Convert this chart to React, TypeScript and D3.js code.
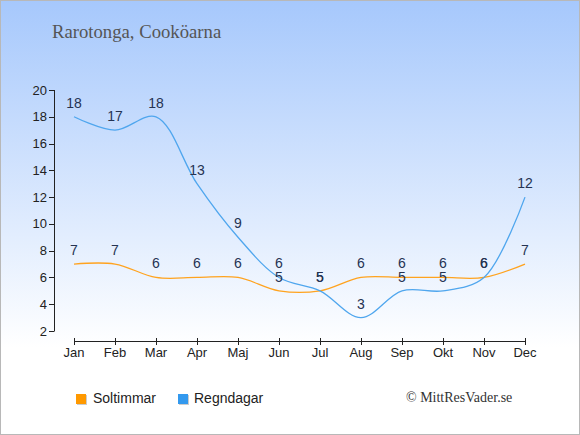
import * as d3 from 'd3'

const months = ['Jan', 'Feb', 'Mar', 'Apr', 'Maj', 'Jun', 'Jul', 'Aug', 'Sep', 'Okt', 'Nov', 'Dec']
const soltimmar = [7, 7, 6, 6, 6, 5, 5, 6, 6, 6, 6, 7]
const regndagar = [18, 17, 18, 13, 9, 6, 5, 3, 5, 5, 6, 12]
const yTicks = [2, 4, 6, 8, 10, 12, 14, 16, 18, 20]

const W = 580
const H = 435
const COL_SUN = '#ffa31f'
const COL_RAIN = '#4fa6ee'
const LEG_SUN = '#ff9900'
const LEG_RAIN = '#3399ee'
const LABEL = '#253352'
const SANS = 'Liberation Sans, Arial, sans-serif'
const SERIF = 'Liberation Serif, Georgia, serif'

export default function App() {
  const x = d3.scalePoint<string>().domain(months).range([74, 525])
  const y = d3.scaleLinear().domain([2, 20]).range([331, 90])

  const line = d3.line<number>()
    .x((_d, i) => x(months[i])!)
    .y(d => y(d))
    .curve(d3.curveCatmullRom)

  const axisY = 341

  return (
    <svg width={W} height={H} style={{ position: 'absolute', left: 0, top: 0, display: 'block' }}>
      <defs>
        <linearGradient id="bg" x1="0" y1="0" x2="0" y2="1">
          <stop offset="0" stopColor="#a6c8fc" />
          <stop offset="0.8" stopColor="#ffffff" />
          <stop offset="1" stopColor="#ffffff" />
        </linearGradient>
      </defs>
      <rect x={0.5} y={0.5} width={W - 1} height={H - 1} fill="url(#bg)" stroke="#b8b8b8" strokeWidth={1} />

      <text x={52} y={38} fontFamily={SERIF} fontSize={18.7} fill="#555">Rarotonga, Cooköarna</text>

      {/* y axis */}
      <line x1={54.5} x2={54.5} y1={y(20)} y2={y(2)} stroke="#222" />
      {yTicks.map(t => (
        <g key={t}>
          <line x1={49} x2={54.5} y1={Math.round(y(t)) + 0.5} y2={Math.round(y(t)) + 0.5} stroke="#222" />
          <text x={47} y={y(t)} dy="0.35em" textAnchor="end" fontFamily={SANS} fontSize={13} fill="#222">{t}</text>
        </g>
      ))}

      {/* x axis */}
      <line x1={x('Jan')!} x2={x('Dec')!} y1={axisY + 0.5} y2={axisY + 0.5} stroke="#222" />
      {months.map(m => (
        <g key={m}>
          <line x1={Math.round(x(m)!) + 0.5} x2={Math.round(x(m)!) + 0.5} y1={338} y2={345} stroke="#222" />
          <text x={x(m)!} y={357} textAnchor="middle" fontFamily={SANS} fontSize={13} fill="#222">{m}</text>
        </g>
      ))}

      <path d={line(soltimmar)!} fill="none" stroke={COL_SUN} strokeWidth={1.3} />
      <path d={line(regndagar)!} fill="none" stroke={COL_RAIN} strokeWidth={1.3} />

      {soltimmar.map((v, i) => (
        <text key={'s' + i} x={x(months[i])!} y={y(v) - 14} dy="0.35em" textAnchor="middle"
          fontFamily={SANS} fontSize={14} fill={LABEL}>{v}</text>
      ))}
      {regndagar.map((v, i) => (
        <text key={'r' + i} x={x(months[i])!} y={y(v) - 14} dy="0.35em" textAnchor="middle"
          fontFamily={SANS} fontSize={14} fill={LABEL}>{v}</text>
      ))}

      {/* legend */}
      <rect x={77} y={395} width={10} height={10} fill="#ccc" />
      <rect x={76} y={394} width={10} height={10} fill={LEG_SUN} />
      <text x={93} y={403} fontFamily={SANS} fontSize={14} fill="#222">Soltimmar</text>
      <rect x={179} y={395} width={10} height={10} fill="#ccc" />
      <rect x={178} y={394} width={10} height={10} fill={LEG_RAIN} />
      <text x={194} y={403} fontFamily={SANS} fontSize={14} fill="#222">Regndagar</text>

      <text x={406} y={402} fontFamily={SERIF} fontSize={14} fill="#333">© MittResVader.se</text>
    </svg>
  )
}
